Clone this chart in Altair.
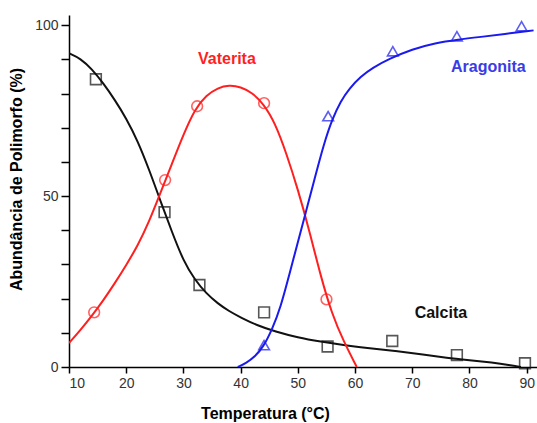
import altair as alt
import pandas as pd

# ---- measured points ----
calc_x = [14.7, 26.7, 32.8, 44.1, 55.2, 66.5, 77.8, 89.7]
calc_y = [84.2, 45.3, 24.0, 16.0, 6.0, 7.6, 3.5, 1.1]
vat_x = [14.4, 26.8, 32.4, 44.1, 55.0]
vat_y = [16.0, 54.7, 76.3, 77.2, 19.8]
ara_x = [44.1, 55.3, 66.6, 77.8, 89.1]
ara_y = [6.4, 73.4, 92.4, 96.8, 99.7]

# ---- fitted curves ----
calc_cx = [10, 12, 14, 16, 18, 20, 22, 24, 26, 28, 30, 32, 34, 36, 38, 40, 43, 46, 50, 54, 58, 62, 67, 72, 76, 80, 84, 87, 89]
calc_cy = [91.8, 90.3, 87.2, 83.0, 78.2, 72.8, 66.2, 57.8, 48.5, 39.5, 31.0, 25.5, 21.5, 18.6, 16.3, 14.5, 12.1, 10.4, 8.6, 7.4, 6.4, 5.6, 4.7, 3.6, 2.7, 2.0, 1.3, 0.6, 0.0]
vat_cx = [10, 12, 14, 16, 18, 20, 22, 24, 26, 28, 30, 32, 34, 36, 38, 40, 42, 44, 46, 48, 50, 52, 54, 56, 58, 60.3]
vat_cy = [7.0, 10.8, 15.0, 19.5, 24.5, 29.8, 35.5, 42.5, 51.0, 59.5, 68.0, 75.5, 79.5, 81.7, 82.5, 82.0, 80.3, 77.0, 71.5, 62.5, 52.0, 40.0, 26.5, 15.3, 7.5, 0.0]
ara_cx = [39.5, 41, 42.5, 44, 45.5, 47, 48.5, 50, 51.5, 53, 54.5, 56, 57.5, 59, 61, 63, 66, 70, 74, 78, 82, 86, 91.2]
ara_cy = [0.0, 1.2, 3.0, 6.0, 11.0, 17.5, 27.0, 36.5, 46.0, 55.5, 65.0, 72.5, 77.8, 81.5, 85.0, 87.5, 90.2, 93.0, 94.8, 95.8, 96.6, 97.4, 98.5]

label_text = ["Vaterita", "Aragonita", "Calcita"]
label_x = [37.6, 83.3, 75.0]
label_y = [90.0, 87.7, 15.8]

RED = "#ff1f1f"
BLUE = "#1a1aee"
BLACK = "#111111"

xs = alt.Scale(domain=[10, 91.8], nice=False, zero=False)
ys = alt.Scale(domain=[0, 103], nice=False, zero=False)

x_axis = alt.Axis(values=[10, 20, 30, 40, 50, 60, 70, 80, 90], title="Temperatura (°C)",
                  grid=False, domainColor="black", domainWidth=1.5, tickColor="black",
                  tickWidth=1.5, tickSize=6, labelFont="Liberation Sans", labelFontSize=14,
                  labelColor="#333333", labelPadding=3, titleFont="Liberation Sans",
                  titleFontSize=16, titleFontWeight="bold", titleColor="black",
                  titleX=196, titleY=46, titleBaseline="middle", titleAlign="center")
y_axis = alt.Axis(values=[0, 10, 20, 30, 40, 50, 60, 70, 80, 90, 100],
                  labelExpr="datum.value % 50 == 0 ? datum.label : ''",
                  title="Abundância de Polimorfo (%)", grid=False, domainColor="black",
                  domainWidth=1.5, tickColor="black", tickWidth=1.5, tickSize=8,
                  labelFont="Liberation Sans", labelFontSize=14, labelColor="#333333",
                  labelPadding=3, titleFont="Liberation Sans", titleFontSize=16,
                  titleFontWeight="bold", titleColor="black", titleX=-53, titleY=164,
                  titleBaseline="middle", titleAlign="center", titleAngle=-90)


def curve(xv, yv, color):
    df = pd.DataFrame({"x": xv, "y": yv})
    return alt.Chart(df).mark_line(color=color, strokeWidth=2, interpolate="basis", clip=True).encode(
        x=alt.X("x:Q", scale=xs, axis=x_axis), y=alt.Y("y:Q", scale=ys, axis=y_axis))


def pts(xv, yv, color, shape):
    df = pd.DataFrame({"x": xv, "y": yv})
    return alt.Chart(df).mark_point(color=color, shape=shape, size=115, strokeWidth=1.6,
                                    filled=False).encode(
        x=alt.X("x:Q", scale=xs, axis=x_axis), y=alt.Y("y:Q", scale=ys, axis=y_axis))


labels_df = pd.DataFrame({"t": label_text, "x": label_x, "y": label_y})
labels = alt.Chart(labels_df).mark_text(font="Liberation Sans", fontSize=16, fontWeight="bold").encode(
    x=alt.X("x:Q", scale=xs, axis=x_axis), y=alt.Y("y:Q", scale=ys, axis=y_axis), text="t:N",
    color=alt.Color("t:N", scale=alt.Scale(domain=label_text, range=[RED, "#3b3be6", BLACK]), legend=None))

chart = alt.layer(
    curve(calc_cx, calc_cy, BLACK),
    curve(vat_cx, vat_cy, RED),
    curve(ara_cx, ara_cy, BLUE),
    pts(calc_x, calc_y, BLACK, "square"),
    pts(vat_x, vat_y, RED, "circle"),
    pts(ara_x, ara_y, BLUE, "triangle-up"),
    labels,
).properties(
    width=468, height=352,
    autosize=alt.AutoSizeParams(type="none"),
    padding={"left": 69, "top": 15, "right": 0, "bottom": 56},
    background="white",
).configure_view(stroke=None)

chart.save("out.html", embed_options={"renderer": "svg", "actions": False})
